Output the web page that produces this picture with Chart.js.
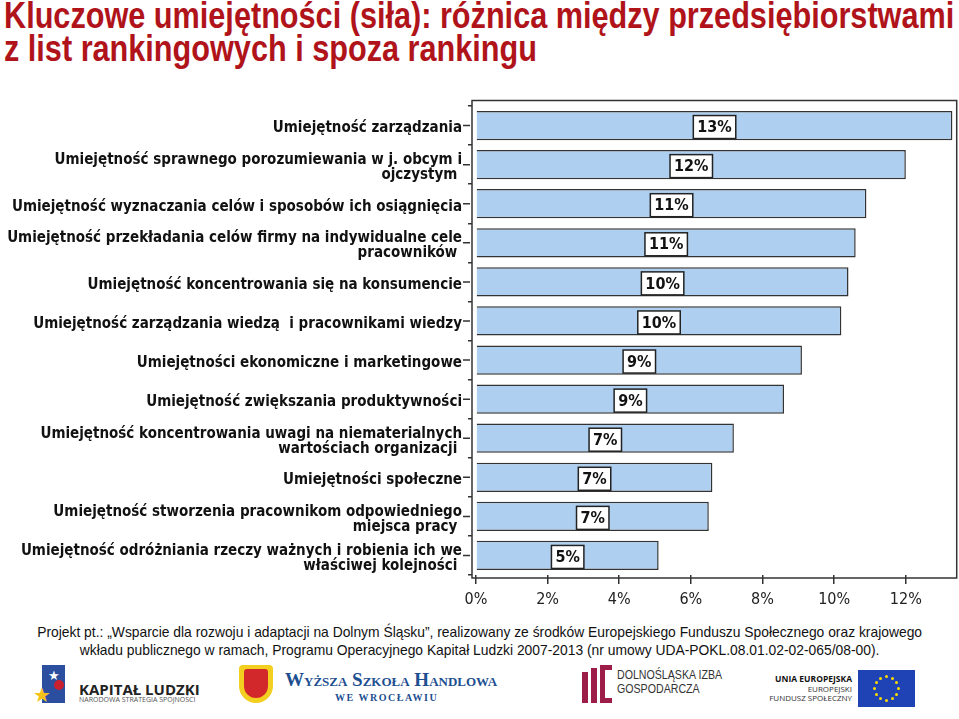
<!DOCTYPE html>
<html lang="pl">
<head>
<meta charset="UTF-8">
<title>Kluczowe umiejętności (siła)</title>
<script src="https://cdn.jsdelivr.net/npm/chart.js"></script>
<style>
  html, body { margin: 0; padding: 0; background: #fff; }
  body { width: 959px; height: 719px; position: relative; overflow: hidden; font-family: "Liberation Sans", Arial, sans-serif; }
  #title { position: absolute; left: 4px; top: -1px; color: #b0141a; font: bold 36px/33px "Liberation Sans", Arial, sans-serif; white-space: nowrap; transform-origin: 0 0; }
  #chartBox { position: absolute; left: 0; top: 85px; }
  #footer { position: absolute; left: 0; top: 623px; width: 959px; text-align: center; font: 14.5px/18px "Liberation Sans", Arial, sans-serif; color: #111; white-space: nowrap; transform-origin: 482px 0; }
  .abs { position: absolute; white-space: nowrap; }
  .kl1 { left: 79px; top: 679px; font: bold 15px "Open Sans", sans-serif; color: #222; }
  .kl2 { left: 79px; top: 695px; font: 7px "Open Sans", sans-serif; color: #555; }
  .wsh1 { left: 285px; top: 669px; font: bold 19px "Liberation Serif", serif; font-variant: small-caps; color: #1d4f91; }
  .wsh2 { left: 335px; top: 692px; font: bold 10px "Liberation Serif", serif; color: #1d4f91; letter-spacing: 1.5px; }
  .dig { left: 617px; top: 668px; font: 12.5px/14px "Liberation Sans", Arial, sans-serif; color: #333; transform: scaleX(0.85); transform-origin: 0 0; }
  .eu { right: 107px; top: 674px; text-align: right; font: 8px/9.5px "Open Sans", sans-serif; color: #333; }
  .eu b { font-size: 8.5px; color: #111; }
  #flag { position: absolute; left: 858px; top: 670px; width: 57px; height: 37px; background: #1f43b5; }
  #flag span { position: absolute; width: 3px; height: 3px; border-radius: 50%; background: #ffdd00; }
</style>
</head>
<body>
<div id="title"><span id="t1">Kluczowe umiejętności (siła): różnica między przedsiębiorstwami</span><br>z list rankingowych i spoza rankingu</div>

<div id="chartBox"><canvas id="skillsChart" width="959" height="535"></canvas></div>

<div id="footer"><span id="f1">Projekt pt.: „Wsparcie dla rozwoju i adaptacji na Dolnym Śląsku”, realizowany ze środków Europejskiego Funduszu Społecznego oraz krajowego</span><br>wkładu publicznego w ramach, Programu Operacyjnego Kapitał Ludzki 2007-2013 (nr umowy UDA-POKL.08.01.02-02-065/08-00).</div>

<!-- logos, rough -->
<div class="abs" style="left:42px;top:665px;width:23px;height:38px;background:#2b4f9e;"></div>
<div class="abs" style="left:48px;top:668px;font-size:13px;color:#fff;">★</div>
<div class="abs" style="left:54px;top:680px;width:10px;height:10px;border-radius:50%;background:#c8202f;"></div>
<div class="abs" style="left:33px;top:683px;font-size:20px;color:#f4c21a;">★</div>
<div class="abs kl1">KAPITAŁ LUDZKI</div>
<div class="abs kl2">NARODOWA STRATEGIA SPÓJNOŚCI</div>

<div class="abs" style="left:239px;top:665px;width:34px;height:38px;background:#f3cf1f;border-radius:4px 4px 17px 17px;"></div>
<div class="abs" style="left:244px;top:669px;width:24px;height:29px;background:#d3282b;border-radius:3px 3px 12px 12px;"></div>
<div class="abs wsh1">Wyższa Szkoła Handlowa</div>
<div class="abs wsh2">WE WROCŁAWIU</div>

<div class="abs" style="left:582px;top:672px;width:6px;height:31px;background:#9c1d47;"></div>
<div class="abs" style="left:591px;top:668px;width:6px;height:35px;background:#9c1d47;"></div>
<div class="abs" style="left:600px;top:665px;width:12px;height:38px;border:5px solid #9c1d47;border-right:none;box-sizing:border-box;"></div>
<div class="abs dig">DOLNOŚLĄSKA IZBA<br>GOSPODARCZA</div>

<div class="abs eu"><b>UNIA EUROPEJSKA</b><br>EUROPEJSKI<br>FUNDUSZ SPOŁECZNY</div>
<div id="flag"></div>

<script>
  const categories = [
    'Umiejętność zarządzania',
    ['Umiejętność sprawnego porozumiewania w j. obcym i', 'ojczystym '],
    'Umiejętność wyznaczania celów i sposobów ich osiągnięcia',
    ['Umiejętność przekładania celów firmy na indywidualne cele', 'pracowników '],
    'Umiejętność koncentrowania się na konsumencie',
    'Umiejętność zarządzania wiedzą  i pracownikami wiedzy',
    'Umiejętności ekonomiczne i marketingowe',
    'Umiejętność zwiększania produktywności',
    ['Umiejętność koncentrowania uwagi na niematerialnych', 'wartościach organizacji '],
    'Umiejętności społeczne',
    ['Umiejętność stworzenia pracownikom odpowiedniego', 'miejsca pracy '],
    ['Umiejętność odróżniania rzeczy ważnych i robienia ich we', 'właściwej kolejności ']
  ];
  const values = [13.3, 12.0, 10.9, 10.6, 10.4, 10.2, 9.1, 8.6, 7.2, 6.6, 6.5, 5.1];
  const valueLabels = ['13%', '12%', '11%', '11%', '10%', '10%', '9%', '9%', '7%', '7%', '7%', '5%'];
  const xTicks = [0, 2, 4, 6, 8, 10, 12];

  const FONT = '"DejaVu Sans Condensed", "DejaVu Sans", Verdana, sans-serif';

  // the original text is horizontally squeezed, no narrow font here so scale it
  const t1 = document.getElementById('t1');
  document.getElementById('title').style.transform = 'scaleX(' + (950 / t1.offsetWidth) + ')';
  const f1 = document.getElementById('f1');
  document.getElementById('footer').style.transform = 'scaleX(' + (885 / f1.offsetWidth) + ')';

  // EU flag stars
  const flag = document.getElementById('flag');
  for (let i = 0; i < 12; i++) {
    const a = i * Math.PI / 6;
    const s = document.createElement('span');
    s.style.left = (27 + 12 * Math.cos(a)) + 'px';
    s.style.top = (17 + 12 * Math.sin(a)) + 'px';
    flag.appendChild(s);
  }

  // box around plot + short ticks at category centres
  const framePlugin = {
    id: 'frame',
    afterDraw(chart) {
      const { ctx, chartArea: a, scales: { y } } = chart;
      ctx.save();
      ctx.strokeStyle = '#333';
      ctx.lineWidth = 1.5;
      ctx.strokeRect(a.left, a.top - 5.5, a.right - a.left, a.bottom - a.top + 8.5);
      ctx.beginPath();
      y.ticks.forEach((t, i) => {
        const py = y.getPixelForTick(i);
        ctx.moveTo(a.left - 9, py);
        ctx.lineTo(a.left - 2, py);
      });
      ctx.stroke();
      ctx.restore();
    }
  };

  // white boxed value labels in the middle of each bar
  const valueBoxes = {
    id: 'valueBoxes',
    afterDatasetsDraw(chart) {
      const ctx = chart.ctx;
      ctx.save();
      ctx.font = 'bold 16px ' + FONT;
      ctx.textAlign = 'center';
      ctx.textBaseline = 'middle';
      chart.getDatasetMeta(0).data.forEach((bar, i) => {
        const txt = valueLabels[i];
        const cx = (bar.x + bar.base) / 2;
        const cy = bar.y + 1.5;
        const w = ctx.measureText(txt).width + 8;
        const h = 23;
        ctx.fillStyle = '#fff';
        ctx.fillRect(cx - w / 2, cy - h / 2, w, h);
        ctx.strokeStyle = '#222';
        ctx.lineWidth = 1.5;
        ctx.strokeRect(cx - w / 2, cy - h / 2, w, h);
        ctx.fillStyle = '#111';
        ctx.fillText(txt, cx, cy + 1);
      });
      ctx.restore();
    }
  };

  new Chart(document.getElementById('skillsChart'), {
    type: 'bar',
    data: {
      labels: categories,
      datasets: [{
        data: values,
        backgroundColor: '#aecff0',
        borderColor: '#333',
        borderWidth: 1.5,
        barPercentage: 0.75,
        categoryPercentage: 1.0
      }]
    },
    options: {
      indexAxis: 'y',
      responsive: false,
      animation: false,
      layout: { padding: { top: 16.5, right: 2.3, bottom: 0, left: 0 } },
      plugins: { legend: { display: false }, tooltip: { enabled: false } },
      scales: {
        x: {
          type: 'linear',
          min: -0.11,
          max: 13.42,
          afterBuildTicks: axis => { axis.ticks = xTicks.map(v => ({ value: v })); },
          afterFit: axis => { axis.height = 45; },
          grid: { drawOnChartArea: false, tickLength: 9, color: '#333', lineWidth: 1.5 },
          border: { display: false },
          ticks: {
            padding: 6,
            color: '#222',
            font: { family: FONT, size: 16 },
            callback: v => v + '%'
          }
        },
        y: {
          afterFit: axis => { axis.width = 472; },
          grid: { offset: true, drawOnChartArea: false, tickLength: 4, color: '#333', lineWidth: 1.5 },
          border: { display: false },
          ticks: {
            autoSkip: false,
            padding: 6,
            labelOffset: 3,
            color: '#111',
            font: { family: FONT, weight: 'bold', size: 15, lineHeight: 1.0 }
          }
        }
      }
    },
    plugins: [framePlugin, valueBoxes]
  });
</script>
</body>
</html>
